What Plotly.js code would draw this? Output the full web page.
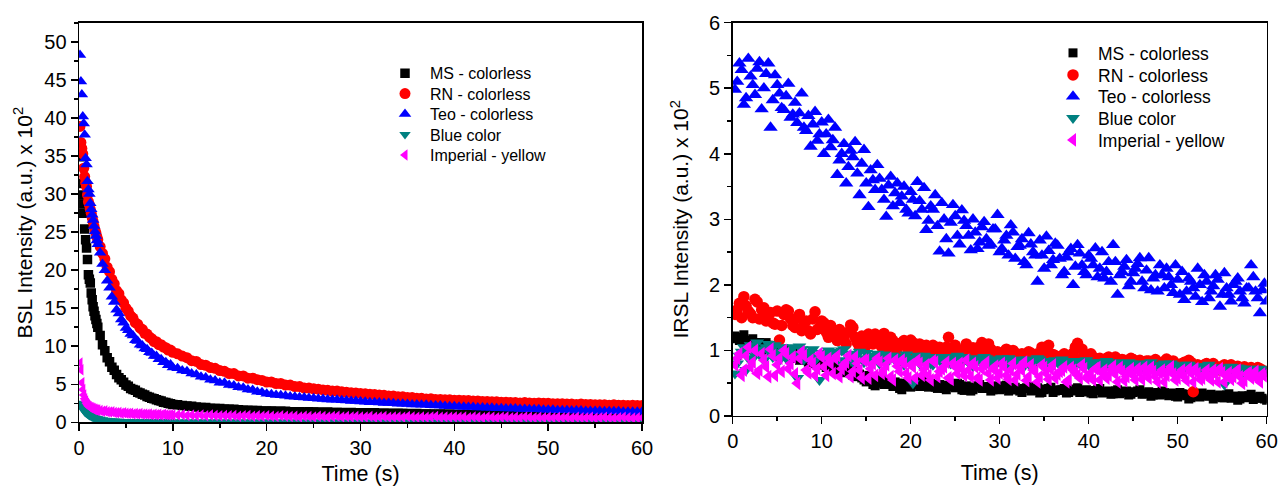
<!DOCTYPE html>
<html>
<head>
<meta charset="utf-8">
<script src="https://cdn.plot.ly/plotly-3.0.1.min.js"></script>
<style>html,body{margin:0;padding:0;background:#fff;}#chart{width:1281px;height:489px;}</style>
</head>
<body>
<div id="chart"></div>
<script>
// ---------- Left panel (BSL) ----------
const bslTime = [0.1,0.2,0.3,0.4,0.5,0.6,0.7,0.8,0.9,1.0,1.1,1.2,1.3,1.4,1.5,1.6,1.7,1.8,1.9,2.0,
2.25,2.5,2.75,3.0,3.25,3.5,3.75,4.0,4.25,4.5,4.75,5.0,5.25,5.5,5.75,6.0,6.25,6.5,6.75,7.0,7.25,7.5,7.75,8.0,8.25,8.5,8.75,9.0,9.25,9.5,9.75,10.0,
10.5,11,11.5,12,12.5,13,13.5,14,14.5,15,15.5,16,16.5,17,17.5,18,18.5,19,19.5,20,
20.5,21,21.5,22,22.5,23,23.5,24,24.5,25,25.5,26,26.5,27,27.5,28,28.5,29,29.5,30,
30.5,31,31.5,32,32.5,33,33.5,34,34.5,35,35.5,36,36.5,37,37.5,38,38.5,39,39.5,40,
40.5,41,41.5,42,42.5,43,43.5,44,44.5,45,45.5,46,46.5,47,47.5,48,48.5,49,49.5,50,
50.5,51,51.5,52,52.5,53,53.5,54,54.5,55,55.5,56,56.5,57,57.5,58,58.5,59,59.5,60];

const bslMS = [34.9,31.4,29.9,28.7,27.5,25.4,24.0,22.9,21.4,19.4,18.8,18.3,17.0,16.1,15.2,14.6,14.0,13.5,13.0,12.5,
11.4,10.2,9.4,8.5,7.95,7.25,6.85,6.3,5.85,5.6,5.25,4.9,4.75,4.45,4.3,4.2,3.95,3.85,3.7,3.6,3.4,3.3,3.15,3.1,2.95,2.85,2.8,2.65,2.6,2.5,2.45,2.35,
2.3,2.2,2.15,2.1,2.0,1.95,1.95,1.85,1.8,1.8,1.75,1.7,1.7,1.65,1.6,1.6,1.55,1.55,1.5,1.5,
1.5,1.45,1.45,1.45,1.4,1.4,1.4,1.35,1.4,1.35,1.35,1.3,1.35,1.3,1.3,1.3,1.25,1.3,1.25,1.25,
1.25,1.2,1.25,1.2,1.2,1.2,1.15,1.2,1.15,1.15,1.1,1.15,1.1,1.1,1.1,1.05,1.1,1.05,1.05,1.05,
1.0,1.05,1.0,1.0,1.0,0.95,1.0,0.95,0.95,0.95,0.9,0.95,0.9,0.9,0.9,0.9,0.85,0.9,0.85,0.85,
0.85,0.85,0.85,0.8,0.85,0.8,0.8,0.8,0.8,0.75,0.8,0.75,0.75,0.75,0.75,0.75,0.7,0.75,0.7,0.7];

const bslRN = [38.9,36.8,36.0,35.3,33.4,32.3,31.5,31.0,29.9,29.0,28.6,28.0,27.5,26.9,26.4,25.8,25.3,24.9,24.4,24.0,
23.1,22.2,21.5,20.4,19.8,18.8,18.2,17.3,16.9,16.1,15.7,15.0,14.6,14.0,13.7,13.1,12.9,12.4,12.2,11.7,11.6,11.2,11.0,10.6,10.6,10.2,10.2,9.9,9.8,9.5,9.5,9.2,
9.0,8.7,8.5,8.1,8.0,7.6,7.5,7.2,7.1,6.8,6.7,6.4,6.4,6.1,6.1,5.8,5.8,5.6,5.5,5.3,
5.3,5.1,5.1,4.9,4.9,4.7,4.7,4.5,4.5,4.4,4.35,4.25,4.2,4.1,4.1,4.0,3.95,3.9,3.85,3.8,
3.75,3.7,3.65,3.6,3.55,3.45,3.45,3.35,3.35,3.25,3.25,3.15,3.15,3.05,3.1,3.0,3.0,2.95,2.95,2.9,
2.9,2.85,2.85,2.8,2.8,2.75,2.75,2.7,2.7,2.65,2.65,2.6,2.6,2.55,2.6,2.55,2.5,2.55,2.5,2.5,
2.45,2.45,2.45,2.4,2.4,2.35,2.4,2.35,2.35,2.3,2.3,2.3,2.25,2.3,2.25,2.25,2.2,2.25,2.2,2.2];

const bslTeo = [48.3,44.8,43.1,40.2,39.3,37.8,34.7,33.9,31.7,30.6,30.0,28.8,28.0,27.3,26.6,25.8,25.1,24.5,23.9,23.4,
22.3,20.8,20.0,18.6,17.7,16.5,15.8,14.8,14.3,13.5,13.1,12.4,12.1,11.6,11.4,10.8,10.7,10.2,10.1,9.7,9.6,9.2,9.1,8.7,8.7,8.3,8.3,7.9,7.9,7.5,7.6,7.2,
7.1,6.8,6.7,6.4,6.3,6.0,5.9,5.6,5.5,5.2,5.2,4.9,4.85,4.6,4.55,4.3,4.25,4.0,3.95,3.75,
3.7,3.6,3.55,3.5,3.4,3.35,3.3,3.25,3.2,3.15,3.1,3.05,3.0,2.95,2.95,2.9,2.85,2.8,2.8,2.75,
2.7,2.65,2.65,2.6,2.55,2.55,2.5,2.45,2.45,2.4,2.35,2.35,2.3,2.3,2.25,2.2,2.2,2.15,2.1,2.1,
2.05,2.05,2.0,2.0,1.95,1.95,1.9,1.9,1.85,1.85,1.8,1.8,1.8,1.75,1.75,1.7,1.7,1.7,1.65,1.65,
1.65,1.6,1.6,1.6,1.55,1.55,1.55,1.5,1.5,1.5,1.5,1.45,1.45,1.45,1.45,1.4,1.4,1.4,1.4,1.4];

const bslBlue = [2.5,2.2,2.0,1.8,1.6,1.4,1.3,1.2,1.1,1.0,0.9,0.85,0.8,0.7,0.65,0.6,0.55,0.5,0.48,0.45,
0.4,0.33,0.28,0.24,0.2,0.18,0.16,0.14,0.13,0.12,0.11,0.1,0.1,0.09,0.09,0.08,0.08,0.08,0.07,0.07,0.07,0.07,0.06,0.06,0.06,0.06,0.06,0.05,0.05,0.05,0.05,0.05,
0.05,0.04,0.05,0.05,0.04,0.05,0.04,0.05,0.05,0.04,0.05,0.04,0.04,0.05,0.04,0.05,0.04,0.04,0.05,0.04,
0.04,0.05,0.04,0.04,0.05,0.04,0.04,0.05,0.04,0.04,0.05,0.04,0.04,0.04,0.05,0.04,0.04,0.05,0.04,0.04,
0.04,0.04,0.05,0.04,0.04,0.04,0.05,0.04,0.04,0.04,0.04,0.05,0.04,0.04,0.04,0.04,0.05,0.04,0.04,0.04,
0.04,0.04,0.04,0.05,0.04,0.04,0.04,0.04,0.04,0.05,0.04,0.04,0.04,0.04,0.04,0.05,0.04,0.04,0.04,0.04,
0.04,0.04,0.04,0.04,0.05,0.04,0.04,0.04,0.04,0.04,0.04,0.05,0.04,0.04,0.04,0.04,0.04,0.04,0.05,0.04];

const bslImperial = [7.8,6.9,5.2,4.3,3.6,3.1,2.8,2.5,2.3,2.15,2.05,1.95,1.9,1.85,1.8,1.7,1.7,1.65,1.6,1.6,
1.55,1.45,1.5,1.4,1.35,1.4,1.3,1.25,1.3,1.2,1.25,1.2,1.15,1.2,1.1,1.15,1.1,1.15,1.05,1.1,1.05,1.1,1.0,1.05,1.0,1.05,0.95,1.05,1.0,0.95,1.0,0.95,
0.95,1.0,0.9,0.95,0.9,0.95,0.85,0.95,0.9,0.85,0.9,0.85,0.9,0.8,0.85,0.9,0.8,0.85,0.8,0.85,
0.8,0.75,0.85,0.8,0.75,0.8,0.7,0.8,0.75,0.7,0.8,0.75,0.7,0.75,0.8,0.7,0.75,0.7,0.75,0.7,
0.7,0.75,0.65,0.7,0.75,0.65,0.7,0.7,0.65,0.75,0.7,0.65,0.7,0.65,0.7,0.75,0.65,0.7,0.65,0.7,
0.65,0.7,0.6,0.7,0.65,0.6,0.7,0.65,0.6,0.65,0.7,0.6,0.65,0.6,0.7,0.65,0.6,0.65,0.6,0.65,
0.6,0.65,0.6,0.65,0.55,0.65,0.6,0.6,0.65,0.55,0.6,0.65,0.6,0.55,0.6,0.65,0.6,0.55,0.6,0.6];

// ---------- Right panel (IRSL): two interleaved sample sets ----------
const irslTime = [0.25,0.75,1.25,1.75,2.25,2.75,3.25,3.75,4.25,4.75,5.25,5.75,6.25,6.75,7.25,7.75,8.25,8.75,9.25,9.75,
10.25,10.75,11.25,11.75,12.25,12.75,13.25,13.75,14.25,14.75,15.25,15.75,16.25,16.75,17.25,17.75,18.25,18.75,19.25,19.75,
20.25,20.75,21.25,21.75,22.25,22.75,23.25,23.75,24.25,24.75,25.25,25.75,26.25,26.75,27.25,27.75,28.25,28.75,29.25,29.75,
30.25,30.75,31.25,31.75,32.25,32.75,33.25,33.75,34.25,34.75,35.25,35.75,36.25,36.75,37.25,37.75,38.25,38.75,39.25,39.75,
40.25,40.75,41.25,41.75,42.25,42.75,43.25,43.75,44.25,44.75,45.25,45.75,46.25,46.75,47.25,47.75,48.25,48.75,49.25,49.75,
50.25,50.75,51.25,51.75,52.25,52.75,53.25,53.75,54.25,54.75,55.25,55.75,56.25,56.75,57.25,57.75,58.25,58.75,59.25,59.75];

const irslTime2 = [0.5,1,1.5,2,2.5,3,3.5,4,4.5,5,5.5,6,6.5,7,7.5,8,8.5,9,9.5,10,
10.5,11,11.5,12,12.5,13,13.5,14,14.5,15,15.5,16,16.5,17,17.5,18,18.5,19,19.5,20,
20.5,21,21.5,22,22.5,23,23.5,24,24.5,25,25.5,26,26.5,27,27.5,28,28.5,29,29.5,30,
30.5,31,31.5,32,32.5,33,33.5,34,34.5,35,35.5,36,36.5,37,37.5,38,38.5,39,39.5,40,
40.5,41,41.5,42,42.5,43,43.5,44,44.5,45,45.5,46,46.5,47,47.5,48,48.5,49,49.5,50,
50.5,51,51.5,52,52.5,53,53.5,54,54.5,55,55.5,56,56.5,57,57.5,58,58.5,59,59.5,60];

const irslMS = [1.22,1.15,1.24,1.08,1.18,1.10,1.02,1.12,0.98,1.05,0.95,1.02,0.92,0.98,0.88,0.94,0.85,0.90,0.80,0.86,
0.78,0.82,0.74,0.78,0.70,0.75,0.66,0.70,0.64,0.55,0.62,0.48,0.58,0.50,0.55,0.48,0.52,0.42,0.50,0.45,
0.52,0.48,0.55,0.46,0.50,0.44,0.48,0.42,0.47,0.45,0.50,0.40,0.46,0.38,0.44,0.48,0.42,0.45,0.40,0.46,
0.42,0.47,0.40,0.44,0.38,0.42,0.45,0.39,0.43,0.36,0.41,0.44,0.38,0.40,0.42,0.36,0.40,0.43,0.37,0.40,
0.35,0.39,0.42,0.36,0.38,0.34,0.40,0.36,0.38,0.33,0.37,0.40,0.34,0.37,0.32,0.36,0.38,0.33,0.35,0.30,
0.36,0.33,0.26,0.34,0.30,0.35,0.31,0.33,0.29,0.32,0.28,0.34,0.30,0.24,0.31,0.28,0.33,0.27,0.30,0.26];
const irslMS2 = [1.18,1.20,1.12,1.15,1.05,1.12,1.00,1.08,0.96,1.00,0.92,0.96,0.88,0.92,0.85,0.88,0.82,0.84,0.78,0.80,
0.74,0.76,0.70,0.72,0.66,0.68,0.62,0.60,0.58,0.52,0.56,0.46,0.54,0.48,0.52,0.45,0.50,0.40,0.48,0.44,
0.50,0.45,0.52,0.44,0.48,0.42,0.46,0.40,0.45,0.43,0.48,0.39,0.44,0.40,0.46,0.42,0.44,0.38,0.43,0.40,
0.44,0.38,0.42,0.40,0.36,0.43,0.38,0.41,0.35,0.40,0.42,0.36,0.39,0.40,0.35,0.41,0.38,0.36,0.39,0.37,
0.34,0.40,0.35,0.37,0.33,0.38,0.34,0.36,0.32,0.36,0.38,0.33,0.35,0.30,0.35,0.32,0.36,0.31,0.34,0.29,
0.34,0.31,0.28,0.33,0.29,0.32,0.30,0.26,0.31,0.28,0.32,0.27,0.30,0.26,0.29,0.31,0.25,0.29,0.27,0.24];

const irslRN = [1.55,1.72,1.82,1.60,1.50,1.74,1.62,1.45,1.58,1.40,1.16,1.55,1.60,1.38,1.50,1.30,1.45,1.25,1.59,1.35,
1.42,1.20,1.30,1.15,1.25,1.10,1.39,1.20,1.05,1.18,1.25,1.10,1.22,1.05,1.15,1.20,1.00,1.10,1.15,0.98,
1.12,1.05,0.95,1.08,1.00,0.92,1.05,0.98,1.20,0.95,1.02,0.90,1.10,0.95,0.92,1.06,0.98,1.10,0.90,0.98,
0.93,1.02,0.88,0.96,0.92,0.85,0.98,0.90,0.95,1.05,1.00,0.88,0.92,0.85,0.95,0.88,0.96,1.11,1.02,0.90,
0.95,0.85,0.88,0.82,0.90,0.85,0.80,0.86,0.82,0.88,0.80,0.85,0.78,0.84,0.80,0.76,0.82,0.87,0.78,0.80,
0.75,0.82,0.85,0.37,0.78,0.74,0.80,0.72,0.76,0.70,0.78,0.74,0.70,0.76,0.72,0.68,0.74,0.70,0.72,0.68];
const irslRN2 = [1.62,1.50,1.68,1.56,1.78,1.48,1.65,1.52,1.42,1.60,1.38,1.62,1.48,1.35,1.55,1.42,1.30,1.48,1.32,1.45,
1.28,1.38,1.22,1.32,1.18,1.28,1.35,1.12,1.22,1.08,1.18,1.25,1.10,1.26,1.05,1.15,1.02,1.12,1.08,1.16,
1.00,1.10,1.04,0.96,1.08,1.02,0.94,1.05,0.98,1.08,0.92,1.00,0.96,1.04,0.90,1.12,0.96,1.02,0.94,0.88,
0.98,0.92,1.00,0.86,0.95,0.90,0.96,0.88,0.92,0.86,1.08,0.94,0.88,0.92,0.84,0.90,1.05,0.86,0.92,0.84,
0.90,0.86,0.80,0.88,0.84,0.90,0.80,0.85,0.78,0.86,0.82,0.76,0.84,0.80,0.86,0.78,0.82,0.76,0.84,0.78,
0.80,0.74,0.82,0.76,0.72,0.78,0.74,0.80,0.72,0.76,0.70,0.78,0.72,0.68,0.75,0.70,0.66,0.74,0.70,0.68];

const irslTeo = [4.98,5.38,4.75,5.45,5.05,5.30,4.68,5.22,4.40,5.20,4.92,4.67,5.07,4.60,4.47,4.92,4.35,4.11,4.64,4.30,
4.00,4.52,4.21,3.68,4.00,3.55,4.05,4.18,3.37,4.06,3.19,3.60,3.83,3.45,3.04,3.65,3.40,3.25,3.50,3.09,
3.30,3.57,3.15,2.84,3.20,3.37,2.51,3.00,2.48,3.22,2.75,3.14,2.90,2.53,2.80,2.65,2.96,2.60,2.85,3.07,
2.55,2.75,2.91,2.40,2.60,2.35,2.79,2.50,2.05,2.45,2.74,2.30,2.63,2.40,2.20,2.50,2.00,2.61,2.30,2.15,
2.40,2.56,2.25,2.10,2.35,2.61,1.85,2.20,2.38,2.05,2.25,2.41,1.95,2.41,2.10,1.90,2.15,2.25,2.00,2.30,
1.85,1.77,2.10,1.95,2.25,1.74,2.05,1.90,2.15,1.67,2.18,1.85,2.00,2.10,1.80,1.95,2.30,1.90,1.57,2.02];
const irslTeo2 = [5.10,5.28,4.85,5.18,4.90,5.40,5.00,5.38,4.82,5.05,4.70,4.88,4.55,4.78,4.62,4.40,4.58,4.45,4.20,4.48,
4.30,4.10,4.40,3.90,4.15,3.80,3.95,3.70,3.85,3.55,3.75,3.45,3.62,3.30,3.52,3.20,3.55,3.35,3.15,3.42,
3.05,3.28,3.48,2.98,3.15,2.90,3.25,2.70,2.95,3.05,2.62,2.98,2.75,3.00,2.55,2.88,2.70,2.62,2.85,2.50,
2.68,2.45,2.80,2.58,2.70,2.30,2.62,2.45,2.68,2.25,2.52,2.38,2.60,2.15,2.42,2.55,2.28,2.48,2.20,2.45,
2.30,2.12,2.50,2.20,2.05,2.35,2.15,2.28,1.98,2.18,2.32,2.05,2.22,1.92,2.15,2.30,1.95,2.12,1.88,2.08,
2.20,1.90,2.05,1.82,2.00,2.15,1.80,1.98,2.08,1.85,1.95,1.75,2.05,1.90,1.72,1.95,2.12,1.80,1.92,1.75];

const irslBlue = [0.65,0.92,1.05,0.88,1.00,1.12,0.90,1.05,0.95,1.08,0.85,1.00,0.92,1.05,0.58,1.02,0.90,0.98,0.85,0.55,
0.95,1.00,0.88,0.96,1.00,0.85,0.95,0.90,0.98,0.82,0.92,0.86,0.95,0.88,0.80,0.92,0.85,0.90,0.78,0.88,
0.50,0.92,0.84,0.88,0.80,0.90,0.85,0.78,0.88,0.82,0.92,0.80,0.86,0.78,0.88,0.84,0.90,0.80,0.86,0.82,
0.88,0.78,0.85,0.80,0.86,0.76,0.84,0.80,0.88,0.78,0.82,0.76,0.85,0.80,0.78,0.84,0.76,0.82,0.78,0.85,
0.75,0.80,0.82,0.74,0.80,0.76,0.82,0.72,0.78,0.80,0.74,0.78,0.72,0.80,0.76,0.70,0.78,0.74,0.80,0.72,
0.76,0.70,0.78,0.72,0.74,0.68,0.76,0.72,0.66,0.74,0.48,0.72,0.68,0.74,0.66,0.70,0.72,0.65,0.70,0.67];
const irslBlue2 = [0.80,0.98,0.70,1.08,0.92,1.02,0.85,1.10,0.90,0.98,1.05,0.88,1.00,0.94,1.06,0.86,0.96,1.02,0.90,0.96,
0.86,0.98,0.92,0.84,1.02,0.90,0.82,0.94,0.88,0.96,0.84,0.90,0.80,0.94,0.86,0.92,0.82,0.88,0.94,0.84,
0.88,0.80,0.92,0.86,0.78,0.88,0.82,0.90,0.80,0.86,0.84,0.90,0.82,0.76,0.86,0.80,0.88,0.84,0.78,0.86,
0.82,0.88,0.78,0.84,0.80,0.86,0.76,0.82,0.86,0.80,0.84,0.78,0.82,0.86,0.80,0.76,0.84,0.80,0.82,0.78,
0.82,0.76,0.80,0.84,0.74,0.78,0.80,0.76,0.82,0.74,0.80,0.76,0.78,0.82,0.74,0.76,0.80,0.72,0.78,0.76,
0.72,0.78,0.74,0.70,0.76,0.72,0.78,0.70,0.74,0.72,0.68,0.75,0.70,0.73,0.68,0.72,0.70,0.66,0.72,0.68];

const irslImperial = [0.78,0.95,0.70,1.05,0.82,0.65,0.95,0.75,1.02,0.62,0.88,1.00,0.72,0.90,0.50,0.98,0.70,0.85,0.62,0.95,
0.75,0.88,0.65,0.92,0.72,0.82,0.60,0.90,0.70,0.85,0.58,0.80,0.88,0.65,0.78,0.60,0.85,0.68,0.80,0.58,
0.75,0.85,0.62,0.78,0.55,0.82,0.68,0.75,0.58,0.80,0.65,0.72,0.85,0.60,0.75,0.55,0.78,0.65,0.72,0.58,
0.80,0.62,0.70,0.55,0.75,0.82,0.60,0.70,0.52,0.78,0.65,0.72,0.58,0.68,0.75,0.55,0.70,0.62,0.78,0.58,
0.66,0.72,0.55,0.70,0.62,0.76,0.52,0.68,0.60,0.72,0.55,0.66,0.74,0.58,0.68,0.52,0.70,0.62,0.75,0.55,
0.66,0.60,0.72,0.52,0.65,0.58,0.70,0.55,0.64,0.72,0.52,0.66,0.60,0.70,0.50,0.64,0.58,0.68,0.52,0.62];
const irslImperial2 = [0.88,0.62,0.92,0.75,1.00,0.70,0.85,0.60,0.92,0.78,0.68,0.95,0.80,0.64,0.88,0.92,0.66,0.80,0.72,0.90,
0.62,0.80,0.88,0.60,0.78,0.92,0.68,0.80,0.58,0.85,0.72,0.62,0.82,0.70,0.88,0.55,0.76,0.85,0.65,0.78,
0.58,0.80,0.70,0.62,0.84,0.60,0.72,0.82,0.56,0.75,0.80,0.62,0.70,0.80,0.58,0.72,0.82,0.55,0.76,0.66,
0.75,0.56,0.80,0.64,0.70,0.54,0.78,0.68,0.60,0.74,0.56,0.78,0.64,0.70,0.52,0.74,0.66,0.58,0.72,0.62,
0.55,0.74,0.66,0.58,0.70,0.64,0.74,0.54,0.68,0.62,0.72,0.56,0.66,0.74,0.60,0.66,0.52,0.70,0.64,0.58,
0.70,0.54,0.66,0.72,0.56,0.64,0.60,0.70,0.52,0.66,0.62,0.56,0.68,0.60,0.54,0.66,0.62,0.56,0.64,0.58];

const seriesNames = ['MS - colorless','RN - colorless','Teo - colorless','Blue color','Imperial - yellow'];
const seriesColors = ['#000000','#FF0000','#0000FF','#008080','#FF00FF'];
const seriesSymbols = ['square','circle','triangle-up','triangle-down','triangle-left'];
const leftSizes = [9.5,11,11,10,10];
const rightSizes = [9,11.5,12.5,12,12];
// legend rows (pixel centres in the 1281x489 figure)
const leftLegendRows = [73.3,93.7,114,134.5,155];
const rightLegendRows = [53,75,96.5,118,140];

const bslData = [bslMS, bslRN, bslTeo, bslBlue, bslImperial];
const irslData = [irslMS.concat(irslMS2), irslRN.concat(irslRN2), irslTeo.concat(irslTeo2),
                  irslBlue.concat(irslBlue2), irslImperial.concat(irslImperial2)];
const irslAllTime = irslTime.concat(irslTime2);

const W = 1281, H = 489;
const FONT = 'Liberation Sans, Arial, Helvetica, sans-serif';
const traces = [];
const legends = {};
bslData.forEach((ys, i) => {
  const key = i === 0 ? 'legend' : 'legend' + (i + 1);
  traces.push({
    type: 'scatter', mode: 'markers', x: bslTime, y: ys, name: seriesNames[i],
    xaxis: 'x', yaxis: 'y', legend: key,
    marker: {symbol: seriesSymbols[i], color: seriesColors[i], size: leftSizes[i], line: {width: 0}}
  });
  legends[key] = {
    x: (431 - 51) / W, y: 1 - leftLegendRows[i] / H, xanchor: 'left', yanchor: 'middle',
    itemwidth: 40, bgcolor: 'rgba(0,0,0,0)', borderwidth: 0,
    font: {family: FONT, size: 16, color: '#000'}
  };
});
irslData.forEach((ys, i) => {
  const key = 'legend' + (i + 6);
  traces.push({
    type: 'scatter', mode: 'markers', x: irslAllTime, y: ys, name: seriesNames[i],
    xaxis: 'x2', yaxis: 'y2', legend: key,
    marker: {symbol: seriesSymbols[i], color: seriesColors[i], size: rightSizes[i], line: {width: 0}}
  });
  legends[key] = {
    x: (1099 - 51) / W, y: 1 - rightLegendRows[i] / H, xanchor: 'left', yanchor: 'middle',
    itemwidth: 40, bgcolor: 'rgba(0,0,0,0)', borderwidth: 0,
    font: {family: FONT, size: 17.5, color: '#000'}
  };
});

const axisBase = {
  showgrid: false, zeroline: false, showline: true, linecolor: '#000', linewidth: 1.5,
  ticks: 'outside', ticklen: 7, tickwidth: 1.5, tickcolor: '#000',
  tickfont: {family: FONT, size: 20, color: '#000'}
};
const mirrorBase = {
  showgrid: false, zeroline: false, showline: false, showticklabels: false,
  ticks: 'inside', ticklen: 7, tickwidth: 1.5, tickcolor: '#000'
};
const L = {x: [0.0617, 0.5012], y: [0.1364, 0.953]};
const R = {x: [0.572, 0.9888], y: [0.1493, 0.9536]};

const layout = Object.assign({
  width: W, height: H,
  margin: {l: 0, r: 0, t: 0, b: 0},
  paper_bgcolor: '#fff', plot_bgcolor: 'rgba(0,0,0,0)',
  font: {family: FONT, color: '#000'},
  showlegend: true,
  xaxis: Object.assign({}, axisBase, {
    domain: L.x, anchor: 'y', range: [0, 60], dtick: 10, tick0: 0, mirror: true,
    minor: {dtick: 5, ticklen: 4, tickwidth: 1.5, ticks: 'outside', tickcolor: '#000'},
    title: {text: 'Time (s)', font: {family: FONT, size: 21.5}, standoff: 8}
  }),
  yaxis: Object.assign({}, axisBase, {
    domain: L.y, anchor: 'x', range: [0, 52.5], dtick: 5, tick0: 0, mirror: true,
    minor: {dtick: 2.5, ticklen: 4, tickwidth: 1.5, ticks: 'outside', tickcolor: '#000'},
    title: {text: 'BSL Intensity (a.u.) x 10<sup>2</sup>', font: {family: FONT, size: 21}, standoff: 6}
  }),
  xaxis3: Object.assign({}, mirrorBase, {
    overlaying: 'x', side: 'top', anchor: 'y', range: [0, 60], dtick: 10, tick0: 0,
    minor: {dtick: 5, ticklen: 4, tickwidth: 1.5, ticks: 'inside', tickcolor: '#000'}
  }),
  yaxis3: Object.assign({}, mirrorBase, {
    overlaying: 'y', side: 'right', anchor: 'x', range: [0, 52.5], dtick: 5, tick0: 0,
    minor: {dtick: 2.5, ticklen: 4, tickwidth: 1.5, ticks: 'inside', tickcolor: '#000'}
  }),
  xaxis2: Object.assign({}, axisBase, {
    domain: R.x, anchor: 'y2', range: [0, 60], dtick: 10, tick0: 0, mirror: true,
    minor: {dtick: 5, ticklen: 4, tickwidth: 1.5, ticks: 'outside', tickcolor: '#000'},
    title: {text: 'Time (s)', font: {family: FONT, size: 21.5}, standoff: 13}
  }),
  yaxis2: Object.assign({}, axisBase, {
    domain: R.y, anchor: 'x2', range: [0, 6], dtick: 1, tick0: 0, mirror: true,
    minor: {dtick: 0.5, ticklen: 4, tickwidth: 1.5, ticks: 'outside', tickcolor: '#000'},
    title: {text: 'IRSL Intensity (a.u.) x 10<sup>2</sup>', font: {family: FONT, size: 21}, standoff: 14}
  }),
  xaxis4: Object.assign({}, mirrorBase, {
    overlaying: 'x2', side: 'top', anchor: 'y2', range: [0, 60], dtick: 10, tick0: 0,
    minor: {dtick: 5, ticklen: 4, tickwidth: 1.5, ticks: 'inside', tickcolor: '#000'}
  }),
  yaxis4: Object.assign({}, mirrorBase, {
    overlaying: 'y2', side: 'right', anchor: 'x2', range: [0, 6], dtick: 1, tick0: 0,
    minor: {dtick: 0.5, ticklen: 4, tickwidth: 1.5, ticks: 'inside', tickcolor: '#000'}
  })
}, legends);

Plotly.newPlot('chart', traces, layout, {staticPlot: true, displayModeBar: false});
</script>
</body>
</html>
